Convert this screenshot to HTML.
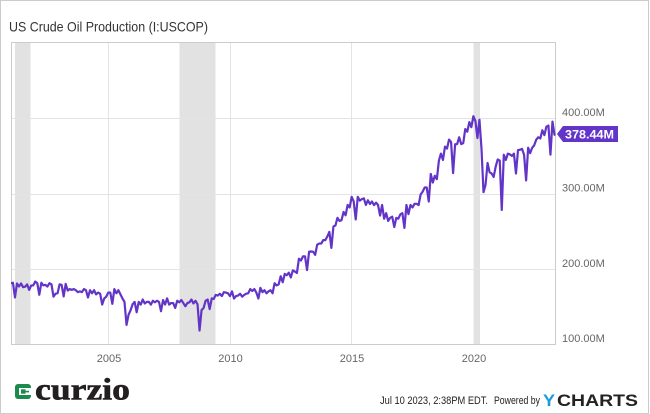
<!DOCTYPE html>
<html>
<head>
<meta charset="utf-8">
<style>
  html, body { margin: 0; padding: 0; background: #fff; }
  svg { display: block; }
  text { font-family: "Liberation Sans", sans-serif; }
</style>
</head>
<body>
<svg id="chart" width="650" height="414" viewBox="0 0 650 414" xmlns="http://www.w3.org/2000/svg">
  <rect x="0" y="0" width="650" height="414" fill="#fff"/>
  <rect x="0.5" y="0.5" width="648" height="413" fill="none" stroke="#cccccc" stroke-width="1"/>

  <!-- Title -->
  <text x="9" y="31.5" font-size="14" fill="#333" textLength="199" lengthAdjust="spacingAndGlyphs">US Crude Oil Production (I:USCOP)</text>

  <!-- Recession bands -->
  <rect x="15" y="43" width="15.5" height="301" fill="#e2e2e2"/>
  <rect x="179.5" y="43" width="36" height="301" fill="#e2e2e2"/>
  <rect x="473.5" y="43" width="6.5" height="301" fill="#e2e2e2"/>

  <!-- Gridlines -->
  <g stroke="#e4e4e4" stroke-width="1">
    <line x1="11.5" y1="118.5" x2="555.5" y2="118.5"/>
    <line x1="11.5" y1="194.5" x2="555.5" y2="194.5"/>
    <line x1="11.5" y1="269.5" x2="555.5" y2="269.5"/>
    <line x1="108.5" y1="42.5" x2="108.5" y2="344.5"/>
    <line x1="230.5" y1="42.5" x2="230.5" y2="344.5"/>
    <line x1="351.5" y1="42.5" x2="351.5" y2="344.5"/>
    <line x1="474.5" y1="42.5" x2="474.5" y2="344.5"/>
  </g>

  <!-- Plot frame -->
  <rect x="11.5" y="42.5" width="544" height="302" fill="none" stroke="#cccccc" stroke-width="1"/>

  <!-- Series -->
  <defs>
    <clipPath id="plotclip"><rect x="11" y="42" width="545" height="303"/></clipPath>
  </defs>
  <path id="series" d="" fill="none" stroke="#6234c8" stroke-width="2.2" stroke-linejoin="round" stroke-linecap="round" clip-path="url(#plotclip)"/>

  <!-- Right axis labels -->
  <g font-size="11" fill="#666">
    <text x="562" y="116">400.00M</text>
    <text x="562" y="191.5">300.00M</text>
    <text x="562" y="267">200.00M</text>
    <text x="562" y="342">100.00M</text>
  </g>

  <!-- Last value label -->
  <polygon points="557,134 563,126 618,126 618,142 563,142" fill="#6234c8"/>
  <text x="565" y="138.5" font-size="12" font-weight="bold" fill="#fff" textLength="49" lengthAdjust="spacingAndGlyphs">378.44M</text>

  <!-- X axis labels -->
  <g font-size="11" fill="#666" text-anchor="middle">
    <text x="109" y="362">2005</text>
    <text x="230.5" y="362">2010</text>
    <text x="352" y="362">2015</text>
    <text x="474" y="362">2020</text>
  </g>

  <!-- Curzio logo -->
  <g>
    <rect x="15" y="384" width="16" height="15" rx="3" fill="#1b8a4c"/>
    <rect x="19" y="388" width="13" height="7" fill="#fff"/>
    <rect x="21" y="389.3" width="4.5" height="4.4" fill="#1b8a4c"/>
    <rect x="25.5" y="390.8" width="3.5" height="1.6" fill="#1b8a4c"/>
    <text x="35" y="399.5" style="font-family:'Liberation Serif', serif; font-weight:bold;" font-size="31" fill="#231f20" stroke="#231f20" stroke-width="0.6" textLength="95" lengthAdjust="spacingAndGlyphs">curzio</text>
  </g>

  <!-- Footer -->
  <text x="380" y="404" font-size="11" fill="#222" textLength="108" lengthAdjust="spacingAndGlyphs">Jul 10 2023, 2:38PM EDT.</text>
  <text x="494" y="404" font-size="11" fill="#222" textLength="46" lengthAdjust="spacingAndGlyphs">Powered by</text>
  <text x="543" y="406" font-size="16.5" font-weight="bold" fill="#1b9ad8" textLength="12" lengthAdjust="spacingAndGlyphs">Y</text>
  <text x="557" y="406" font-size="16.5" font-weight="bold" fill="#222" textLength="81" lengthAdjust="spacingAndGlyphs">CHARTS</text>
</svg>

<script>
(function(){
  var rates = {
    2001:[5.87,5.80,5.84,5.90,5.84,5.87,5.70,5.80,5.75,5.75,5.95,5.92],
    2002:[5.85,5.93,5.87,5.95,5.78,5.90,5.85,5.80,5.45,5.40,5.60,5.80],
    2003:[5.78,5.85,5.82,5.72,5.60,5.75,5.60,5.55,5.65,5.50,5.65,5.60],
    2004:[5.55,5.60,5.55,5.60,5.55,5.55,5.45,5.40,5.10,5.20,5.45,5.45],
    2005:[5.45,5.50,5.60,5.60,5.55,5.55,5.20,5.05,4.20,4.50,4.85,4.95],
    2006:[5.05,5.10,5.05,5.10,5.15,5.15,5.05,5.05,5.10,5.10,5.20,5.10],
    2007:[5.05,5.15,5.13,5.10,5.20,5.10,5.00,5.00,4.95,5.10,5.20,5.13],
    2008:[5.00,5.20,5.00,5.20,5.15,5.15,5.10,4.95,3.95,4.70,4.95,5.10],
    2009:[5.15,5.25,5.20,5.35,5.35,5.50,5.40,5.30,5.65,5.45,5.60,5.30],
    2010:[5.50,5.75,5.30,5.50,5.40,5.45,5.35,5.40,5.60,5.60,5.70,5.60],
    2011:[5.45,5.75,5.65,5.65,5.55,5.60,5.50,5.55,5.60,5.85,5.95,5.80],
    2012:[6.15,6.30,6.25,6.40,6.30,6.30,6.40,6.35,6.50,6.90,7.05,7.00],
    2013:[7.00,7.10,7.20,7.45,7.20,7.30,7.50,7.55,7.80,7.70,7.95,7.85],
    2014:[8.05,8.15,8.28,8.60,8.65,8.80,8.55,8.90,9.05,9.20,9.40,9.55],
    2015:[9.35,9.50,9.55,9.70,9.45,9.80,9.20,9.40,9.55,9.35,9.50,9.30],
    2016:[9.20,9.35,9.20,8.90,8.85,8.80,8.65,8.70,8.53,8.65,8.90,8.80],
    2017:[8.85,9.10,9.20,9.10,9.20,9.40,9.25,9.25,9.50,9.65,10.10,9.95],
    2018:[9.95,10.35,10.53,10.50,10.45,10.65,11.10,11.40,11.50,11.70,12.00,12.00],
    2019:[11.90,11.70,11.80,12.20,12.10,12.20,11.85,12.45,12.75,12.75,12.95,13.00],
    2020:[12.80,12.90,12.85,12.00,9.75,10.40,11.00,10.60,10.90,10.40,11.20,11.15],
    2021:[11.10,9.95,11.35,11.50,11.40,11.75,11.30,11.40,10.90,11.55,11.95,11.60],
    2022:[11.35,11.35,11.65,11.80,11.65,12.15,12.00,12.10,12.45,12.40,12.60,12.55],
    2023:[12.60,12.57,12.77,12.615]
  };
  function days(y,m){
    var d=[31,28,31,30,31,30,31,31,30,31,30,31][m];
    if(m===1 && y%4===0) d=29;
    return d;
  }
  function X(y,m){ return 110.3 + (y + m/12 - 2005)*24.34; }
  function Y(v){ return 344.5 - (v-100)*0.7533; }
  var pts = [];
  pts.push([X(2000,11), Y(5.85*31)]);
  for (var y=2001; y<=2023; y++){
    var arr = rates[y];
    for (var m=0; m<arr.length; m++){
      var v = arr[m]*days(y,m);
      pts.push([X(y,m), Y(v)]);
    }
  }
  var d = "M" + pts.map(function(p){return p[0].toFixed(2)+","+p[1].toFixed(2);}).join(" L");
  document.getElementById("series").setAttribute("d", d);
})();
</script>
</body>
</html>
